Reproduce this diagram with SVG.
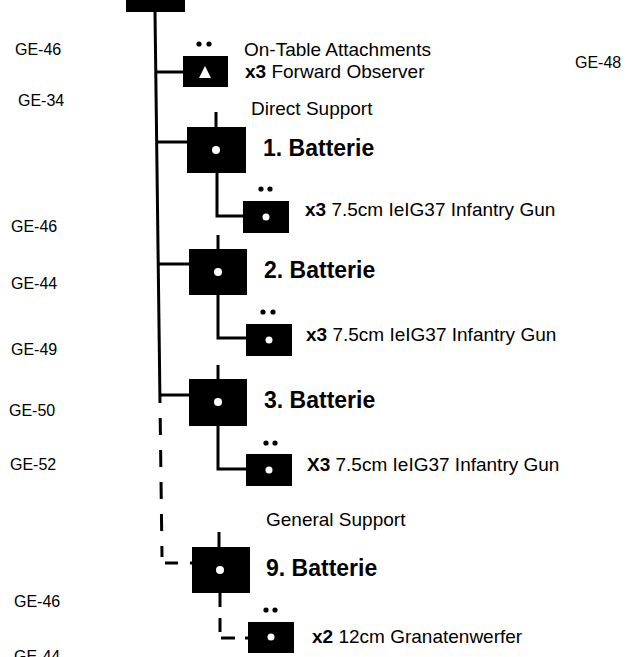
<svg xmlns="http://www.w3.org/2000/svg" width="629" height="657" viewBox="0 0 629 657">
<style>
  text { font-family: "Liberation Sans", Arial, sans-serif; fill: #000; }
  .lbl { font-size: 19px; }
  .ge { font-size: 16px; }
  .bat { font-size: 23px; font-weight: bold; }
  .b { font-weight: bold; }
  .box { fill: #000; }
  .wd { fill: #fff; }
  .ln { stroke: #000; stroke-width: 3; fill: none; }
  .dash { stroke: #000; stroke-width: 3; fill: none; stroke-dasharray: 17 15; stroke-dashoffset: 17; }
</style>
<rect width="629" height="657" fill="#fff"/>

<g id="connectors">
  <path class="ln" d="M155,12 L160,403"/>
  <path class="dash" d="M160,403 L162,557"/>
  <path class="ln" d="M165,563 L178,563 M190,563 L193,563"/>
  <path class="ln" d="M155,72 L183,72"/>
  <path class="ln" d="M156,142 L187,142"/>
  <path class="ln" d="M158,264 L189,264"/>
  <path class="ln" d="M160,395 L189,395"/>
  <path class="ln" d="M216,112 L216,127"/>
  <path class="ln" d="M218,235 L218,249"/>
  <path class="ln" d="M218,365 L218,379"/>
  <path class="ln" d="M219,532 L219,547"/>
  <path class="ln" d="M217,173 L217,216 L243,216"/>
  <path class="ln" d="M218,295 L218,338 L246,338"/>
  <path class="ln" d="M218,426 L218,469 L246,469"/>
  <path class="ln" d="M220,593 L220,607 M220,618 L220,632 M221,638 L235,638 M245,638 L248,638"/>
</g>

<g id="hq">
  <rect class="box" x="126" y="-30" width="59" height="42"/>
</g>

<g id="forward-observer">
  <rect class="box" x="183" y="56" width="45" height="31"/>
  <polygon class="wd" points="205,66 199,78 211,78"/>
  <circle class="box" cx="199" cy="44" r="2.6"/>
  <circle class="box" cx="209" cy="44" r="2.6"/>
  <text class="lbl" x="244" y="56">On-Table Attachments</text>
  <text class="lbl" x="245" y="78"><tspan class="b">x3</tspan> Forward Observer</text>
</g>

<g id="direct-support-label">
  <text class="lbl" x="251" y="115">Direct Support</text>
</g>

<g id="batterie-1">
  <rect class="box" x="187" y="127" width="59" height="46"/>
  <circle class="wd" cx="216" cy="150" r="4"/>
  <text class="bat" x="263" y="156">1. Batterie</text>
</g>
<g id="gun-1">
  <rect class="box" x="243" y="201" width="46" height="32"/>
  <circle class="wd" cx="266" cy="217" r="3.5"/>
  <circle class="box" cx="261" cy="189" r="2.6"/>
  <circle class="box" cx="270" cy="189" r="2.6"/>
  <text class="lbl" x="305" y="216"><tspan class="b">x3</tspan> 7.5cm IeIG37 Infantry Gun</text>
</g>

<g id="batterie-2">
  <rect class="box" x="189" y="249" width="58" height="46"/>
  <circle class="wd" cx="218" cy="272" r="4"/>
  <text class="bat" x="264" y="278">2. Batterie</text>
</g>
<g id="gun-2">
  <rect class="box" x="246" y="324" width="46" height="32"/>
  <circle class="wd" cx="269" cy="340" r="3.5"/>
  <circle class="box" cx="263" cy="312" r="2.6"/>
  <circle class="box" cx="273" cy="312" r="2.6"/>
  <text class="lbl" x="306" y="341"><tspan class="b">x3</tspan> 7.5cm IeIG37 Infantry Gun</text>
</g>

<g id="batterie-3">
  <rect class="box" x="189" y="379" width="58" height="47"/>
  <circle class="wd" cx="218" cy="402" r="4"/>
  <text class="bat" x="264" y="408">3. Batterie</text>
</g>
<g id="gun-3">
  <rect class="box" x="246" y="454" width="46" height="32"/>
  <circle class="wd" cx="269" cy="470" r="3.5"/>
  <circle class="box" cx="266" cy="443" r="2.6"/>
  <circle class="box" cx="275" cy="443" r="2.6"/>
  <text class="lbl" x="307" y="471"><tspan class="b">X3</tspan> 7.5cm IeIG37 Infantry Gun</text>
</g>

<g id="general-support-label">
  <text class="lbl" x="266" y="526">General Support</text>
</g>

<g id="batterie-9">
  <rect class="box" x="192" y="547" width="58" height="46"/>
  <circle class="wd" cx="220" cy="570" r="4"/>
  <text class="bat" x="266" y="576">9. Batterie</text>
</g>
<g id="mortar">
  <rect class="box" x="248" y="622" width="46" height="31"/>
  <circle class="wd" cx="271" cy="637" r="3.5"/>
  <circle class="box" cx="266" cy="610" r="2.6"/>
  <circle class="box" cx="275" cy="610" r="2.6"/>
  <text class="lbl" x="312" y="643"><tspan class="b">x2</tspan> 12cm Granatenwerfer</text>
</g>

<g id="ge-labels">
  <text class="ge" x="15" y="55">GE-46</text>
  <text class="ge" x="18" y="106">GE-34</text>
  <text class="ge" x="11" y="232">GE-46</text>
  <text class="ge" x="11" y="289">GE-44</text>
  <text class="ge" x="11" y="355">GE-49</text>
  <text class="ge" x="9" y="416">GE-50</text>
  <text class="ge" x="10" y="470">GE-52</text>
  <text class="ge" x="14" y="607">GE-46</text>
  <text class="ge" x="14" y="662">GE-44</text>
  <text class="ge" x="575" y="68">GE-48</text>
</g>
</svg>
